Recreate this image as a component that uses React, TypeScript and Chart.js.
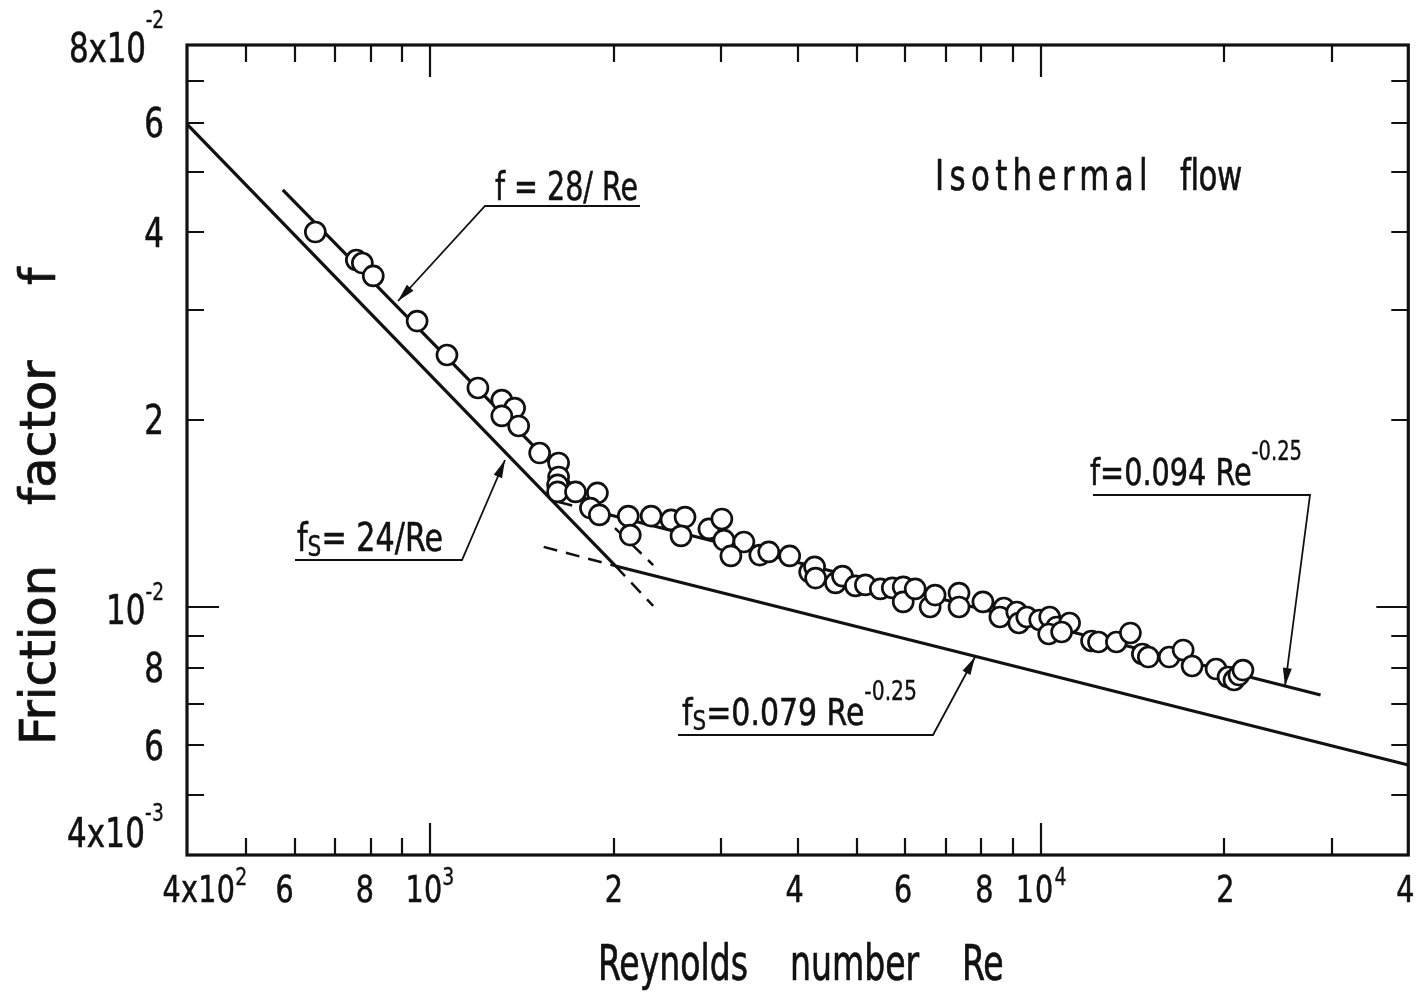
import React, { useEffect, useRef } from 'react';
import { Chart, registerables } from 'chart.js';

Chart.register(...registerables);

// ---------- data ----------
const reynolds = [
  649, 757.5, 774.8, 807.4, 952.6, 1066, 1198, 1311, 1376, 1311,
  1397, 1512, 1624, 1624, 1618, 1618, 1731, 1880, 1831, 1894,
  2112, 2128, 2302, 2482, 2616, 2577, 2863, 3006, 3029, 3266,
  3110, 3468, 3587, 3882, 4185, 4264, 4280, 4614, 4737, 4974,
  5164, 5463, 5715, 5956, 5956, 6231, 6592, 6717, 7351, 7351,
  8044, 8704, 8575, 9140, 9209, 9490, 9965, 10346, 10622, 10307,
  11153, 10823, 12115, 12437, 13306, 14028, 14675, 15008, 16238, 17115,
  17703, 19377, 20271, 20733, 21122, 21442,
];
const friction = [
  0.04006, 0.03612, 0.03572, 0.03405, 0.02882, 0.02542, 0.0225, 0.02152, 0.02089, 0.02029,
  0.01955, 0.01769, 0.01705, 0.01619, 0.01572, 0.01532, 0.01532, 0.01526, 0.01443, 0.01407,
  0.01401, 0.01306, 0.01401, 0.01381, 0.01396, 0.01302, 0.01336, 0.01386, 0.01282, 0.01273,
  0.01209, 0.01213, 0.01227, 0.01209, 0.01139, 0.01161, 0.01114, 0.01094, 0.01122, 0.01082,
  0.01086, 0.0107, 0.01074, 0.01078, 0.0102, 0.0107, 0.01001, 0.01046, 0.01054, 0.01001,
  0.0102, 0.009972, 0.009646, 0.009826, 0.009434, 0.009646, 0.00954, 0.009646, 0.009296, 0.009058,
  0.009434, 0.009125, 0.008827, 0.008794, 0.008794, 0.009092, 0.008412, 0.008319, 0.008319, 0.008538,
  0.008047, 0.007958, 0.007726, 0.007641, 0.007783, 0.007928,
];

// smooth-tube lines (fs)
const smoothLamRe = [400, 2012];
const smoothLamF = [0.0597, 0.01165];
const smoothLamExtRe = [2012, 2320];
const smoothLamExtF = [0.01165, 0.01005];
const smoothTurbRe = [2012, 40000];
const smoothTurbF = [0.01165, 0.00558];
const smoothTurbExtRe = [1535, 2012];
const smoothTurbExtF = [0.0125, 0.01165];
// fitted lines (f)
const fitLamRe = [574, 1887];
const fitLamF = [0.0468, 0.01422];
const fitLamExtRe = [1887, 2320];
const fitLamExtF = [0.01422, 0.01169];
const fitTurbRe = [1887, 28736];
const fitTurbF = [0.01422, 0.007228];
const fitTurbExtRe = [1624, 1887];
const fitTurbExtF = [0.01476, 0.01422];

// ticks
const xTickValues = [400, 600, 800, 1000, 2000, 4000, 6000, 8000, 10000, 20000, 40000];
const xTickLabels = ['4x10^{2}', '6', '8', '10^{3}', '2', '4', '6', '8', '10^{4}', '2', '4'];
const yTickValues = [0.08, 0.06, 0.04, 0.02, 0.01, 0.008, 0.006, 0.004];
const yTickLabels = ['8x10^{-2}', '6', '4', '2', '10^{-2}', '8', '6', '4x10^{-3}'];
const xMinorTicks = [500, 600, 700, 800, 900, 2000, 3000, 4000, 5000, 6000, 7000, 8000, 9000, 20000, 30000];
const xDecadeTicks = [1000, 10000];
const yMinorTicks = [0.005, 0.006, 0.007, 0.008, 0.009, 0.02, 0.03, 0.04, 0.05, 0.06, 0.07];
const yDecadeTicks = [0.01];

// ---------- layout / style ----------
const W = 1421;
const H = 992;
const AREA = { left: 187, top: 45, right: 1413, bottom: 855 };
const FONT = "'Liberation Sans Narrow', 'DejaVu Sans Condensed', 'Liberation Sans', sans-serif";
const INK = '#111';

const xLabelLayout = [
  { dx: 18, w: 85 }, { dx: -10 }, { dx: -6 }, { dx: 0, w: 49 }, { dx: 0 }, { dx: -3 },
  { dx: -2 }, { dx: 3 }, { dx: 1, w: 52 }, { dx: 1 }, { dx: -3 },
];
const yLabelLayout = [
  { dy: 3, w: 95, rise: 0.85 }, { dy: 0 }, { dy: 0 }, { dy: 0 }, { dy: 2, w: 58, rise: 0.6 },
  { dy: 0 }, { dy: 0 }, { dy: -22, w: 97, rise: 0.66 },
];

type Seg = { t: string; k: 'n' | 'sup' | 'sub' };
function parseRich(s: string): Seg[] {
  const out: Seg[] = [];
  const re = /([\^_])\{([^}]*)\}/g;
  let last = 0;
  let m: RegExpExecArray | null;
  while ((m = re.exec(s))) {
    if (m.index > last) out.push({ t: s.slice(last, m.index), k: 'n' });
    out.push({ t: m[2], k: m[1] === '^' ? 'sup' : 'sub' });
    last = re.lastIndex;
  }
  if (last < s.length) out.push({ t: s.slice(last), k: 'n' });
  return out;
}

type RichOpts = {
  align?: 'left' | 'center' | 'right';
  width?: number;
  sx?: number;
  mode?: 'scale' | 'space';
  supScale?: number;
  supRise?: number;
  subScale?: number;
  subDrop?: number;
  weight?: number;
};

function measureRich(ctx: any, s: string, size: number, o: RichOpts = {}) {
  const segs = parseRich(s);
  const supScale = o.supScale ?? 0.68;
  const subScale = o.subScale ?? 0.75;
  ctx.save();
  ctx.letterSpacing = '0px';
  let tot = 0;
  segs.forEach((sg) => {
    const z = sg.k === 'n' ? size : sg.k === 'sup' ? size * supScale : size * subScale;
    ctx.font = `${z}px ${FONT}`;
    tot += ctx.measureText(sg.t).width;
  });
  ctx.restore();
  return tot;
}

function drawRich(ctx: any, s: string, x: number, y: number, size: number, o: RichOpts = {}) {
  const segs = parseRich(s);
  const supScale = o.supScale ?? 0.68;
  const supRise = o.supRise ?? 0.62;
  const subScale = o.subScale ?? 0.75;
  const subDrop = o.subDrop ?? 0.15;
  const weight = o.weight ?? 0.014;
  const sz = (k: string) => (k === 'n' ? size : k === 'sup' ? size * supScale : size * subScale);
  ctx.save();
  ctx.letterSpacing = '0px';
  const widths = segs.map((sg) => {
    ctx.font = `${sz(sg.k)}px ${FONT}`;
    return ctx.measureText(sg.t).width;
  });
  const total = widths.reduce((a, b) => a + b, 0);
  const nChars = segs.reduce((a, sg) => a + sg.t.length, 0);
  let sx = o.sx ?? 1;
  let ls = 0;
  if (o.width) {
    if (o.mode === 'space') ls = (o.width / sx - total) / Math.max(1, nChars);
    else sx = o.width / total;
  }
  const drawnW = o.width ?? total * sx;
  const align = o.align ?? 'left';
  const left = align === 'left' ? x : align === 'center' ? x - drawnW / 2 : x - drawnW;
  ctx.translate(left, y);
  ctx.scale(sx, 1);
  ctx.fillStyle = INK;
  ctx.strokeStyle = INK;
  ctx.lineJoin = 'round';
  ctx.textAlign = 'left';
  ctx.textBaseline = 'alphabetic';
  let cx = 0;
  segs.forEach((sg, i) => {
    const z = sz(sg.k);
    ctx.font = `${z}px ${FONT}`;
    ctx.letterSpacing = `${ls}px`;
    const dy = sg.k === 'sup' ? -size * supRise : sg.k === 'sub' ? size * subDrop : 0;
    ctx.fillText(sg.t, cx, dy);
    if (weight > 0) {
      ctx.lineWidth = z * weight;
      ctx.strokeText(sg.t, cx, dy);
    }
    cx += widths[i] + ls * sg.t.length;
  });
  ctx.restore();
}

function polyArrow(ctx: any, pts: number[][]) {
  ctx.save();
  ctx.strokeStyle = INK;
  ctx.fillStyle = INK;
  ctx.lineWidth = 1.8;
  ctx.beginPath();
  ctx.moveTo(pts[0][0], pts[0][1]);
  for (let i = 1; i < pts.length; i++) ctx.lineTo(pts[i][0], pts[i][1]);
  ctx.stroke();
  const [x1, y1] = pts[pts.length - 2];
  const [x2, y2] = pts[pts.length - 1];
  const a = Math.atan2(y2 - y1, x2 - x1);
  const len = 18;
  const hw = 4.5;
  const bx = x2 - len * Math.cos(a);
  const by = y2 - len * Math.sin(a);
  ctx.beginPath();
  ctx.moveTo(x2, y2);
  ctx.lineTo(bx + hw * Math.sin(a), by - hw * Math.cos(a));
  ctx.lineTo(bx - hw * Math.sin(a), by + hw * Math.cos(a));
  ctx.closePath();
  ctx.fill();
  ctx.restore();
}

const paperPlugin = {
  id: 'paper',
  beforeDraw(chart: any) {
    const ctx = chart.ctx;
    ctx.save();
    ctx.fillStyle = '#fff';
    ctx.fillRect(0, 0, chart.width, chart.height);
    ctx.restore();
  },
  afterDraw(chart: any) {
    const ctx = chart.ctx;
    const xs = chart.scales.x;
    const ys = chart.scales.y;
    const { left, right, top, bottom } = chart.chartArea;

    // ticks (inward, all four sides)
    ctx.save();
    ctx.strokeStyle = INK;
    ctx.lineWidth = 2.2;
    const minorLen = 17;
    const majorLen = 32;
    const xt = (v: number, len: number) => {
      const px = Math.round(xs.getPixelForValue(v));
      ctx.beginPath();
      ctx.moveTo(px, bottom);
      ctx.lineTo(px, bottom - len);
      ctx.moveTo(px, top);
      ctx.lineTo(px, top + len);
      ctx.stroke();
    };
    const yt = (v: number, len: number) => {
      const py = Math.round(ys.getPixelForValue(v));
      ctx.beginPath();
      ctx.moveTo(left, py);
      ctx.lineTo(left + len, py);
      ctx.moveTo(right, py);
      ctx.lineTo(right - len, py);
      ctx.stroke();
    };
    xMinorTicks.forEach((v) => xt(v, minorLen));
    xDecadeTicks.forEach((v) => xt(v, majorLen));
    yMinorTicks.forEach((v) => yt(v, minorLen));
    yDecadeTicks.forEach((v) => yt(v, majorLen));

    // frame
    ctx.lineWidth = 3.2;
    ctx.strokeRect(left, top, right - left, bottom - top);
    ctx.restore();

    // x tick labels
    xTickValues.forEach((v, i) => {
      const L: any = xLabelLayout[i] || { dx: 0 };
      const px = xs.getPixelForValue(v) + (L.dx || 0);
      drawRich(ctx, xTickLabels[i], px, 902, 37, {
        align: 'center', width: L.w, sx: 0.86, mode: 'space', supScale: 0.66, supRise: 0.45,
      });
    });
    // y tick labels
    yTickValues.forEach((v, i) => {
      const L: any = yLabelLayout[i] || { dy: 0 };
      const size = 40;
      const py = ys.getPixelForValue(v) + (L.dy || 0) + size * 0.36;
      drawRich(ctx, yTickLabels[i], 164, py, size, {
        align: 'right', width: L.w, sx: 0.86, mode: 'space', supScale: 0.6, supRise: L.rise ?? 0.7,
      });
    });

    // axis titles (one common horizontal compression per title)
    const tSize = 49;
    const tsx = 150 / measureRich(ctx, 'Reynolds', tSize);
    drawRich(ctx, 'Reynolds', 598, 980, tSize, { sx: tsx });
    drawRich(ctx, 'number', 790, 980, tSize, { sx: tsx });
    drawRich(ctx, 'Re', 962, 980, tSize, { sx: tsx });
    const ysx = 180 / measureRich(ctx, 'Friction', tSize);
    ctx.save();
    ctx.translate(55, 0);
    ctx.rotate(-Math.PI / 2);
    drawRich(ctx, 'Friction', -745, 0, tSize, { sx: ysx });
    drawRich(ctx, 'factor', -505, 0, tSize, { sx: ysx });
    drawRich(ctx, 'f', -285, 0, tSize, { sx: ysx });
    ctx.restore();

    // annotations
    drawRich(ctx, 'Isothermal', 935, 190, 43, { width: 218, sx: 0.8, mode: 'space' });
    drawRich(ctx, 'flow', 1180, 190, 43, { width: 62, sx: 0.8, mode: 'space' });

    drawRich(ctx, 'f = 28/ Re', 495, 200, 39, { width: 143 });
    polyArrow(ctx, [[640, 206], [485, 206], [398, 301]]);

    drawRich(ctx, 'f_{S}= 24/Re', 297, 551, 39, { width: 146, subScale: 0.72, subDrop: 0.14 });
    polyArrow(ctx, [[295, 560], [462, 560], [505, 460]]);

    drawRich(ctx, 'f=0.094 Re^{-0.25}', 1090, 485, 38, { width: 212, supScale: 0.68, supRise: 0.66 });
    polyArrow(ctx, [[1093, 495], [1310, 495], [1285, 686]]);

    drawRich(ctx, 'f_{S}=0.079 Re^{-0.25}', 682, 725, 38, {
      width: 235, supScale: 0.68, supRise: 0.66, subScale: 0.72, subDrop: 0.14,
    });
    polyArrow(ctx, [[678, 735], [933, 735], [975, 657]]);
  },
};

function pts(xs: number[], ys: number[]) {
  return xs.map((x, i) => ({ x, y: ys[i] }));
}

function lineDs(xs: number[], ys: number[], dashed: boolean) {
  return {
    data: pts(xs, ys),
    showLine: true,
    pointRadius: 0,
    borderColor: INK,
    borderWidth: dashed ? 2.5 : 3.2,
    borderDash: dashed ? [14, 9] : [],
    fill: false,
    order: 1,
  };
}

export default function App() {
  const ref = useRef<HTMLCanvasElement | null>(null);
  useEffect(() => {
    if (!ref.current) return;
    const chart = new Chart(ref.current, {
      type: 'scatter',
      data: {
        datasets: [
          {
            data: pts(reynolds, friction),
            pointRadius: 10,
            pointBorderWidth: 2.7,
            pointBackgroundColor: '#fff',
            pointBorderColor: INK,
            showLine: false,
            order: 0,
          } as any,
          lineDs(smoothLamRe, smoothLamF, false),
          lineDs(smoothLamExtRe, smoothLamExtF, true),
          lineDs(smoothTurbRe, smoothTurbF, false),
          lineDs(smoothTurbExtRe, smoothTurbExtF, true),
          lineDs(fitLamRe, fitLamF, false),
          lineDs(fitLamExtRe, fitLamExtF, true),
          lineDs(fitTurbRe, fitTurbF, false),
          lineDs(fitTurbExtRe, fitTurbExtF, true),
        ],
      },
      options: {
        animation: false,
        responsive: false,
        devicePixelRatio: 1,
        events: [],
        layout: {
          padding: { left: AREA.left, top: AREA.top, right: W - AREA.right, bottom: H - AREA.bottom },
        },
        plugins: { legend: { display: false }, tooltip: { enabled: false } },
        scales: {
          x: { type: 'logarithmic', min: 400, max: 40000, display: false },
          y: { type: 'logarithmic', min: 0.004, max: 0.08, display: false },
        },
      } as any,
      plugins: [paperPlugin],
    });
    return () => chart.destroy();
  }, []);
  return (
    <div style={{ position: 'fixed', left: 0, top: 0, width: W, height: H, background: '#fff' }}>
      <canvas ref={ref} width={W} height={H} style={{ display: 'block', width: W, height: H }} />
    </div>
  );
}
